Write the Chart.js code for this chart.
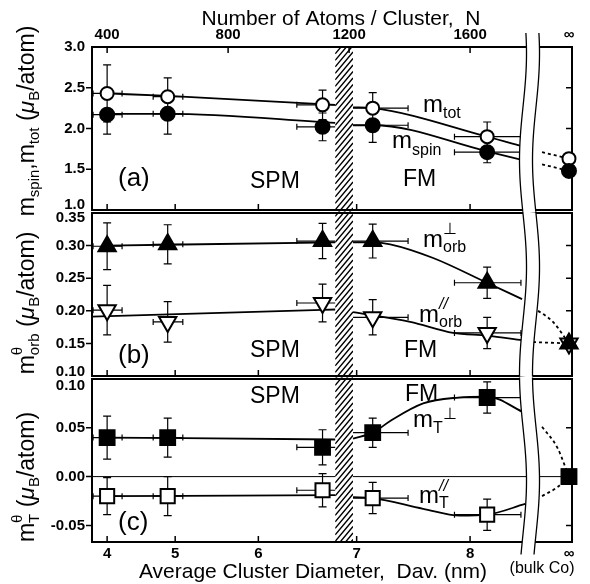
<!DOCTYPE html>
<html>
<head>
<meta charset="utf-8">
<script src="https://cdn.jsdelivr.net/npm/chart.js@4.4.1/dist/chart.umd.min.js"></script>
<style>
  html, body { margin: 0; padding: 0; background: #fff; }
  #wrap { position: relative; width: 590px; height: 584px; }
  #wrap canvas { position: absolute; left: 0; top: 0; }
</style>
</head>
<body>
<div id="wrap">
  <canvas id="pa" width="590" height="584"></canvas>
  <canvas id="pb" width="590" height="584"></canvas>
  <canvas id="pc" width="590" height="584"></canvas>
</div>
<script>
// measured samples: average diameter (nm) and its spread; last value of each series is bulk Co
const diam = [4.0, 4.9, 6.67, 7.15, 8.14];
const diamErr = [0.24, 0.2, 0.26, 0.32, 0.27];

// (a) spin / total moment
const mTot = [2.43, 2.39, 2.29, 2.25, 1.90, 1.63];
const mTotErr = [0.35, 0.23, 0.18, 0.19, 0.18, 0.06];
const mSpin = [2.17, 2.18, 2.02, 2.04, 1.71, 1.48];
const mSpinErr = [0.24, 0.25, 0.17, 0.21, 0.13, 0.08];

// (b) orbital moment
const mOrbPerp = [0.299, 0.302, 0.307, 0.307, 0.243, 0.150];
const mOrbPerpErr = [0.036, 0.030, 0.027, 0.026, 0.024, 0];
const mOrbPar = [0.201, 0.183, 0.212, 0.190, 0.166, 0.150];
const mOrbParErr = [0.038, 0.031, 0.029, 0.027, 0.024, 0];

// (c) magnetic dipole term
const mTPerp = [0.040, 0.040, 0.030, 0.045, 0.081, 0.000];
const mTPerpErr = [0.022, 0.020, 0.018, 0.015, 0.016, 0];
const mTPar = [-0.020, -0.020, -0.014, -0.022, -0.039, 0.000];
const mTParErr = [0.019, 0.020, 0.017, 0.016, 0.016, 0];

// guide curves (x = atoms per cluster)
const totSpmN = [400, 602, 1154], totSpm = [2.43, 2.40, 2.29];
const spinSpmN = [400, 602, 1154], spinSpm = [2.18, 2.18, 2.07];
const totFmN = [1213, 1279, 1656, 1782], totFm = [2.26, 2.25, 1.90, 1.77];
const spinFmN = [1213, 1279, 1656, 1788], spinFm = [2.04, 2.04, 1.72, 1.60];
const totDotN = [1838, 1927], totDot = [1.71, 1.63];
const spinDotN = [1838, 1927], spinDot = [1.56, 1.48];

const perpSpmN = [400, 1154], perpSpm = [0.300, 0.305];
const perpFmN = [1213, 1279, 1336, 1478, 1656, 1772], perpFm = [0.305, 0.305, 0.302, 0.281, 0.243, 0.218];
const perpDotN = [1808, 1874, 1927], perpDot = [0.205, 0.183, 0.150];
const parSpmN = [350, 1154], parSpm = [0.191, 0.202];
const parFmN = [1213, 1402, 1544, 1656, 1772], parFm = [0.198, 0.183, 0.166, 0.162, 0.155];
const parDotN = [1808, 1927], parDot = [0.152, 0.150];

const tPerpSpmN = [400, 1154], tPerpSpm = [0.040, 0.038];
const tPerpFmN = [1213, 1279, 1336, 1445, 1560, 1656, 1782], tPerpFm = [0.039, 0.045, 0.057, 0.075, 0.081, 0.082, 0.065];
const tPerpDotN = [1838, 1888, 1927], tPerpDot = [0.051, 0.030, 0.000];
const tParSpmN = [400, 1154], tParSpm = [-0.020, -0.019];
const tParFmN = [1213, 1279, 1445, 1567, 1656, 1782], tParFm = [-0.021, -0.022, -0.033, -0.040, -0.039, -0.028];
const tParDotN = [1838, 1888, 1927], tParDot = [-0.020, -0.011, 0.000];

// axes
const diamTicks = [4, 5, 6, 7, 8];
const diamLabels = ['4', '5', '6', '7', '8', '\u221e'];
const atomTicks = [400, 800, 1200, 1600];
const atomLabels = ['400', '800', '1200', '1600', '\u221e'];
const yTicksA = [1.0, 1.5, 2.0, 2.5, 3.0];
const yTicksB = [0.10, 0.15, 0.20, 0.25, 0.30, 0.35];
const yTicksC = [-0.05, 0.00, 0.05, 0.10];

const X_MIN = 350, X_MAX = 1937, INF_N = 1927;
const HATCH_N = [1154, 1213];
const BREAK_N = [1775, 1818];
const FONT = '"Liberation Sans", Arial, sans-serif';

const toN = d => 25 * d * d;
const sampleX = diam.map(toN).concat([INF_N]);

function pts(vals) { return vals.map((v, i) => ({ x: sampleX[i], y: v })); }
function curve(xs, vals) { return xs.map((x, i) => ({ x: x, y: vals[i] })); }

function markers(vals, errs, style, filled, radius, rot) {
  return {
    data: pts(vals), yErr: errs, showLine: false, clip: false, order: 0,
    pointStyle: style, pointRadius: radius, pointHoverRadius: radius,
    pointRotation: rot || 0,
    pointBackgroundColor: filled ? '#000' : '#fff',
    pointBorderColor: '#000', pointBorderWidth: 2,
  };
}
function guide(xs, vals, dotted) {
  return {
    data: curve(xs, vals), order: 1, pointRadius: 0, borderColor: '#000',
    borderWidth: 1.8, borderDash: dotted ? [3, 3] : [],
    cubicInterpolationMode: 'monotone', fill: false,
  };
}

// rich text: [text, size, dy, style, advance]
function rich(ctx, parts, x, y, align) {
  let w = 0;
  const ps = parts.map(p => {
    const q = { t: p[0], size: p[1], dy: p[2] || 0, style: p[3] || 'normal', adv: p[4] !== false };
    ctx.font = q.style + ' ' + q.size + 'px ' + FONT;
    q.w = ctx.measureText(q.t).width;
    if (q.adv) w += q.w;
    return q;
  });
  let cx = align === 'center' ? x - w / 2 : x;
  ps.forEach(q => {
    ctx.font = q.style + ' ' + q.size + 'px ' + FONT;
    ctx.fillText(q.t, cx, y + q.dy);
    if (q.adv) cx += q.w;
  });
}

const panels = {
  pa: {
    yTicks: yTicksA, top: true, digits: 1,
    edgeLabels: [[1.0, -5]],
    hatch: [47, 211.5], brk: [33, 211.5],
    title: { x: 34, y: 121, parts: [['m', 23], ['spin', 15, 5], [',', 23], ['m', 23], ['tot', 15, 5], [' (', 23], ['\u03bc', 23, 0, 'italic'], ['B', 15, 5], ['/atom)', 23]] },
    texts: [
      { x: 423, y: 112, parts: [['m', 24], ['tot', 16, 6]] },
      { x: 392, y: 148, parts: [['m', 24], ['spin', 16, 7]] },
      { x: 118, y: 186, parts: [['(a)', 26]] },
      { x: 250, y: 188, parts: [['SPM', 23]] },
      { x: 403, y: 186, parts: [['FM', 23]] },
      { x: 341, y: 25, parts: [['Number of Atoms / Cluster,  N', 21]], align: 'center' },
    ],
  },
  pb: {
    yTicks: yTicksB, digits: 2,
    edgeLabels: [[0.35, 5], [0.10, -4]],
    hatch: [211.5, 377.5], brk: [211.5, 377.5],
    title: { x: 34, y: 303, parts: [['m', 23], ['\u03b8', 15, -12, 'normal', false], ['orb', 15, 5], [' (', 23], ['\u03bc', 23, 0, 'italic'], ['B', 15, 5], ['/atom)', 23]] },
    texts: [
      { x: 423, y: 247, parts: [['m', 24], ['\u22a5', 16, -13, 'normal', false], ['orb', 16, 5]] },
      { x: 419, y: 322, parts: [['m', 24], ['//', 16, -13, 'italic', false], ['orb', 16, 5]] },
      { x: 118, y: 363, parts: [['(b)', 26]] },
      { x: 250, y: 357, parts: [['SPM', 23]] },
      { x: 404, y: 357, parts: [['FM', 23]] },
    ],
  },
  pc: {
    yTicks: yTicksC, zero: true, digits: 2,
    edgeLabels: [[0.10, 7]],
    hatch: [377.5, 542], brk: [377.5, 555],
    title: { x: 34, y: 477, parts: [['m', 23], ['\u03b8', 15, -12, 'normal', false], ['T', 15, 5], [' (', 23], ['\u03bc', 23, 0, 'italic'], ['B', 15, 5], ['/atom)', 23]] },
    texts: [
      { x: 413, y: 427, parts: [['m', 24], ['T', 16, 6], ['\u22a5', 16, -8]] },
      { x: 419, y: 503, parts: [['m', 24], ['//', 16, -12, 'italic', false], ['T', 16, 5]] },
      { x: 118, y: 530, parts: [['(c)', 26]] },
      { x: 250, y: 403, parts: [['SPM', 23]] },
      { x: 405, y: 401, parts: [['FM', 23]] },
      { x: 313, y: 578, parts: [['Average Cluster Diameter,  Dav. (nm)', 21]], align: 'center' },
      { x: 542, y: 573, parts: [['(bulk Co)', 16]], align: 'center' },
    ],
  },
};

const isEdge = (info, v) => info.edgeLabels.some(e => Math.abs(e[0] - v) < 1e-9);

const decor = {
  id: 'decor',
  beforeDatasetsDraw(chart) {
    const info = panels[chart.canvas.id];
    const ctx = chart.ctx, a = chart.chartArea;
    const xs = chart.scales.x, ys = chart.scales.y;
    ctx.save();
    ctx.strokeStyle = '#000';
    if (info.zero) {
      const y0 = ys.getPixelForValue(0);
      ctx.lineWidth = 1;
      ctx.beginPath(); ctx.moveTo(a.left, y0); ctx.lineTo(a.right, y0); ctx.stroke();
    }
    // error bars
    ctx.lineWidth = 1.2;
    ctx.beginPath();
    chart.data.datasets.forEach(ds => {
      if (!ds.yErr) return;
      ds.data.forEach((p, i) => {
        const px = xs.getPixelForValue(p.x), py = ys.getPixelForValue(p.y);
        const e = ds.yErr[i];
        if (e) {
          const t = ys.getPixelForValue(p.y + e), b = ys.getPixelForValue(p.y - e);
          ctx.moveTo(px, t); ctx.lineTo(px, b);
          ctx.moveTo(px - 4, t); ctx.lineTo(px + 4, t);
          ctx.moveTo(px - 4, b); ctx.lineTo(px + 4, b);
        }
        if (i < diam.length) {
          const l = xs.getPixelForValue(toN(diam[i] - diamErr[i]));
          const r = xs.getPixelForValue(toN(diam[i] + diamErr[i]));
          ctx.moveTo(l, py); ctx.lineTo(r, py);
          ctx.moveTo(l, py - 3); ctx.lineTo(l, py + 3);
          ctx.moveTo(r, py - 3); ctx.lineTo(r, py + 3);
        }
      });
    });
    ctx.stroke();
    // hatched transition band
    const hx1 = xs.getPixelForValue(HATCH_N[0]), hx2 = xs.getPixelForValue(HATCH_N[1]);
    const [hy1, hy2] = info.hatch;
    ctx.fillStyle = '#fff';
    ctx.fillRect(hx1, hy1, hx2 - hx1, hy2 - hy1);
    ctx.save();
    ctx.beginPath(); ctx.rect(hx1, hy1, hx2 - hx1, hy2 - hy1); ctx.clip();
    ctx.beginPath();
    for (let k = 0; k < 620; k += 6.5) { ctx.moveTo(hx1, k + (hx2 - hx1) * 1.2); ctx.lineTo(hx2, k); }
    ctx.lineWidth = 1.4; ctx.stroke();
    ctx.restore();
    // frame and ticks
    ctx.lineWidth = 2;
    ctx.strokeRect(a.left, a.top, a.right - a.left, a.bottom - a.top);
    ctx.lineWidth = 1.5;
    ctx.beginPath();
    info.yTicks.forEach(v => {
      const y = ys.getPixelForValue(v);
      if (y <= a.top + 1 || y >= a.bottom - 1) return;
      ctx.moveTo(a.left - 6, y); ctx.lineTo(a.left, y);
      ctx.moveTo(a.right - 6, y); ctx.lineTo(a.right, y);
    });
    diamTicks.forEach(d => {
      const x = xs.getPixelForValue(toN(d));
      ctx.moveTo(x, a.bottom); ctx.lineTo(x, a.bottom - 6);
    });
    if (info.top) atomTicks.forEach(n => {
      const x = xs.getPixelForValue(n);
      ctx.moveTo(x, a.top); ctx.lineTo(x, a.top + 6);
    });
    ctx.stroke();
    ctx.restore();
  },
  afterDraw(chart) {
    const info = panels[chart.canvas.id];
    const ctx = chart.ctx, xs = chart.scales.x, ys = chart.scales.y;
    ctx.save();
    // tick labels at the panel edges, nudged inward so neighbours do not collide
    ctx.fillStyle = '#000';
    ctx.font = 'bold 15px ' + FONT;
    ctx.textAlign = 'right';
    ctx.textBaseline = 'middle';
    info.edgeLabels.forEach(e => {
      ctx.fillText(e[0].toFixed(info.digits), chart.chartArea.left - 7, ys.getPixelForValue(e[0]) + e[1]);
    });
    ctx.textAlign = 'left';
    // axis break
    const bx1 = xs.getPixelForValue(BREAK_N[0]), bx2 = xs.getPixelForValue(BREAK_N[1]);
    const [y0, y1] = info.brk;
    const wave = y => 3.5 * Math.sin(y / 34);
    ctx.beginPath();
    for (let y = y0; y <= y1; y += 1.5) ctx.lineTo(bx1 + wave(y), y);
    for (let y = y1; y >= y0; y -= 1.5) ctx.lineTo(bx2 + wave(y), y);
    ctx.closePath();
    ctx.fillStyle = '#fff'; ctx.fill();
    ctx.strokeStyle = '#000'; ctx.lineWidth = 1.3;
    [bx1, bx2].forEach(bx => {
      ctx.beginPath();
      for (let y = y0; y <= y1; y += 1.5) ctx.lineTo(bx + wave(y), y);
      ctx.stroke();
    });
    // texts
    ctx.fillStyle = '#000';
    ctx.textBaseline = 'alphabetic';
    info.texts.forEach(t => rich(ctx, t.parts, t.x, t.y, t.align));
    ctx.translate(info.title.x, info.title.y);
    ctx.rotate(-Math.PI / 2);
    rich(ctx, info.title.parts, 0, 0, 'center');
    ctx.restore();
  },
};

const tickFont = { family: FONT, size: 15, weight: 'bold' };

function xAxis(position, visible, ticks, labels, height) {
  const s = {
    type: 'linear', position: position, min: X_MIN, max: X_MAX, display: visible,
    grid: { display: false, drawTicks: false }, border: { display: false },
    afterBuildTicks: sc => { sc.ticks = ticks.map(v => ({ value: v })); },
    ticks: { autoSkip: false, maxRotation: 0, padding: 3, color: '#000', font: tickFont,
             callback: (v, i) => labels[i] },
  };
  if (visible) s.afterFit = sc => { sc.height = height; };
  return s;
}
function yAxis(id, min, max, ticks, digits) {
  const info = panels[id];
  return {
    type: 'linear', min: min, max: max,
    grid: { display: false, drawTicks: false }, border: { display: false },
    afterBuildTicks: sc => { sc.ticks = ticks.map(v => ({ value: v })); },
    afterFit: sc => { sc.width = 92; },
    ticks: { padding: 7, color: '#000', font: tickFont,
             callback: v => isEdge(info, v) ? '' : v.toFixed(digits) },
  };
}

function makeChart(id, datasets, scales, padding) {
  return new Chart(document.getElementById(id), {
    type: 'line',
    data: { datasets: datasets },
    options: {
      responsive: false, animation: false,
      layout: { padding: padding },
      plugins: { legend: { display: false }, tooltip: { enabled: false } },
      scales: scales,
    },
    plugins: [decor],
  });
}

const bottomTicks = diamTicks.map(toN).concat([INF_N]);
const topTicks = atomTicks.concat([INF_N]);

makeChart('pa', [
  markers(mSpin, mSpinErr, 'circle', true, 7),
  markers(mTot, mTotErr, 'circle', false, 6.5),
  guide(totSpmN, totSpm), guide(spinSpmN, spinSpm),
  guide(totFmN, totFm), guide(spinFmN, spinFm),
  guide(totDotN, totDot, true), guide(spinDotN, spinDot, true),
], {
  x: xAxis('bottom', false, bottomTicks, diamLabels),
  x2: xAxis('top', true, topTicks, atomLabels, 47),
  y: yAxis('pa', 1.0, 3.0, yTicksA, 1),
}, { top: 0, left: 0, right: 18, bottom: 374 });

makeChart('pb', [
  markers(mOrbPerp, mOrbPerpErr, 'triangle', true, 10),
  markers(mOrbPar, mOrbParErr, 'triangle', false, 10, 180),
  guide(perpSpmN, perpSpm), guide(perpFmN, perpFm), guide(perpDotN, perpDot, true),
  guide(parSpmN, parSpm), guide(parFmN, parFm), guide(parDotN, parDot, true),
], {
  x: xAxis('bottom', false, bottomTicks, diamLabels),
  y: yAxis('pb', 0.10, 0.35, yTicksB, 2),
}, { top: 213, left: 0, right: 18, bottom: 208 });

makeChart('pc', [
  markers(mTPerp, mTPerpErr, 'rect', true, 10.5),
  markers(mTPar, mTParErr, 'rect', false, 10),
  guide(tPerpSpmN, tPerpSpm), guide(tPerpFmN, tPerpFm), guide(tPerpDotN, tPerpDot, true),
  guide(tParSpmN, tParSpm), guide(tParFmN, tParFm), guide(tParDotN, tParDot, true),
], {
  x: xAxis('bottom', true, bottomTicks, diamLabels, 42),
  y: yAxis('pc', -0.067, 0.10, yTicksC, 2),
}, { top: 379, left: 0, right: 18, bottom: 0 });
</script>
</body>
</html>
